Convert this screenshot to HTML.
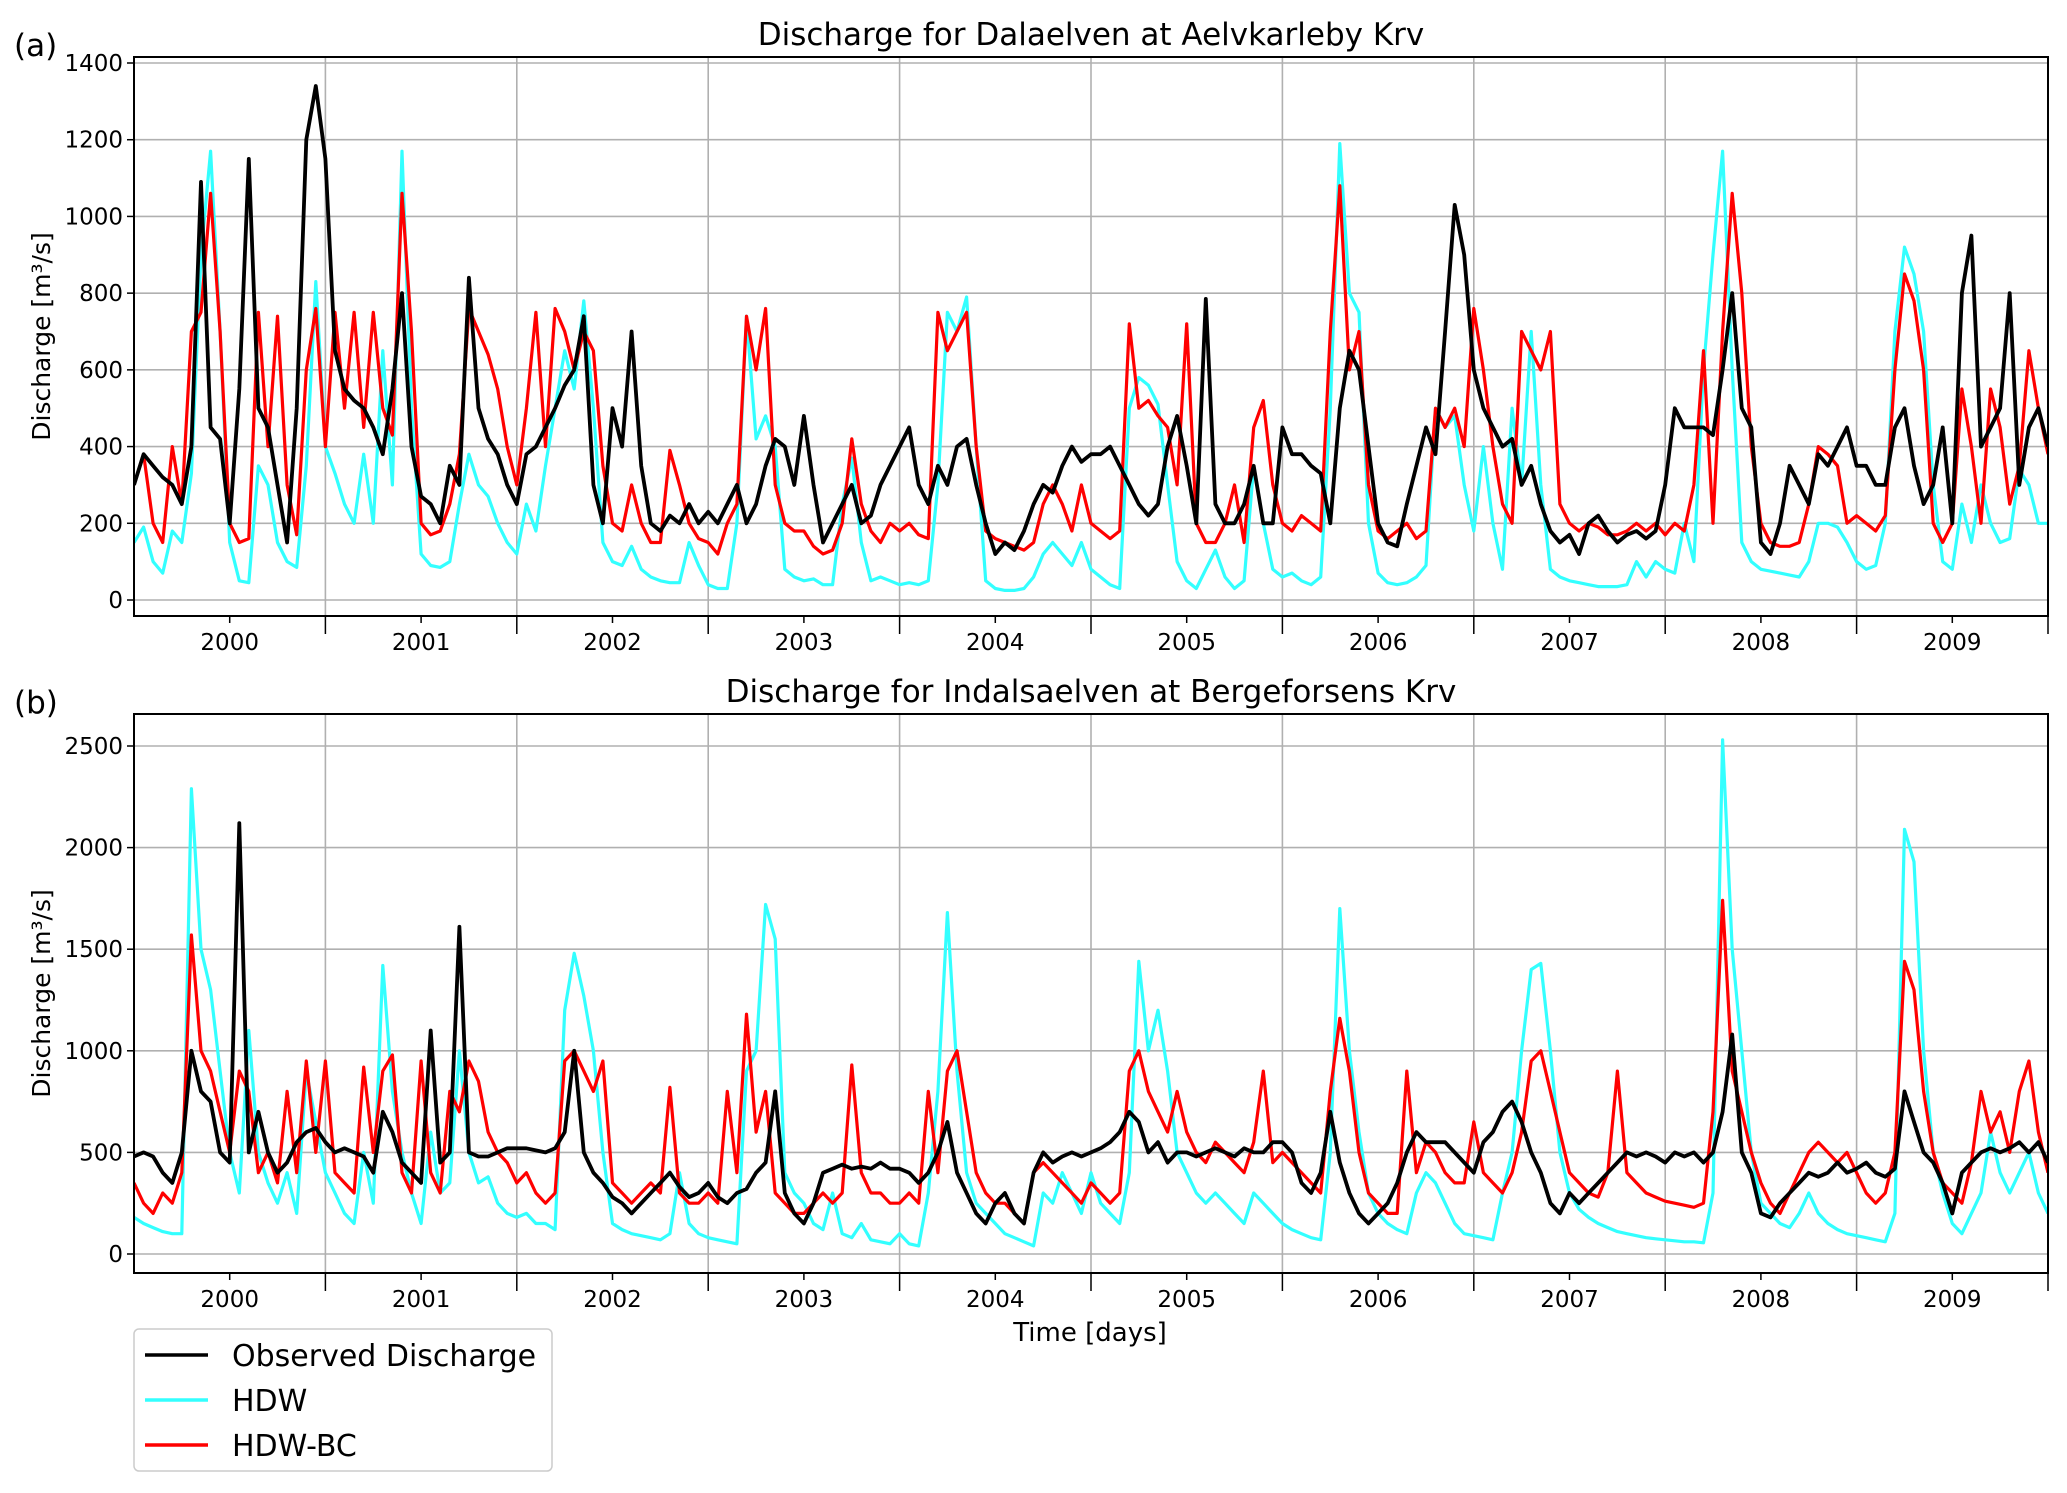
<!DOCTYPE html>
<html><head><meta charset="utf-8">
<style>
html,body{margin:0;padding:0;background:#fff;}
svg{display:block;font-family:"DejaVu Sans","Liberation Sans",sans-serif;}
</style></head>
<body>
<svg id="fig" width="2067" height="1493" viewBox="0 0 2067 1493" xmlns="http://www.w3.org/2000/svg">
<rect width="2067" height="1493" fill="#fff"/>
<g id="panelA"></g>
<g id="panelB"></g>
<text x="1090" y="1341" font-size="26" text-anchor="middle">Time [days]</text>
<g id="legend">
  <rect x="134" y="1329" width="418" height="142" rx="5" fill="#fff" stroke="#cccccc" stroke-width="1.5"/>
  <g>
    <line x1="145" y1="1355" x2="208" y2="1355" stroke="#000" stroke-width="3.5"/>
    <text x="232" y="1366" font-size="30">Observed Discharge</text>
  </g>
  <g>
    <line x1="145" y1="1400" x2="208" y2="1400" stroke="#33ffff" stroke-width="3.5"/>
    <text x="232" y="1411" font-size="30">HDW</text>
  </g>
  <g>
    <line x1="145" y1="1445" x2="208" y2="1445" stroke="#ff0000" stroke-width="3.5"/>
    <text x="232" y="1456" font-size="30">HDW-BC</text>
  </g>
</g>
</svg>
<script>
// time axis: start 1999.5, step 0.05 years
const tStart = 1999.5;
const tStep = 0.05;
const yearLabels = ["2000","2001","2002","2003","2004","2005","2006","2007","2008","2009"];
const ticksA = [0,200,400,600,800,1000,1200,1400];
const ticksB = [0,500,1000,1500,2000,2500];

const hdwA = [150,190,100,70,180,150,330,900,1170,700,
150,50,45,350,300,150,100,85,350,830,
400,330,250,200,380,200,650,300,1170,500,
120,90,85,100,250,380,300,270,200,150,
120,250,180,350,500,650,550,780,500,150,
100,90,140,80,60,50,45,45,150,90,
40,30,30,200,740,420,480,400,80,60,
50,55,40,40,250,370,150,50,60,50,
40,45,40,50,300,750,700,790,400,50,
30,25,25,30,60,120,150,120,90,150,
80,60,40,30,500,580,560,510,300,100,
50,30,80,130,60,30,50,350,200,80,
60,70,50,40,60,500,1190,800,750,200,
70,45,40,45,60,90,500,450,480,300,
180,400,200,80,500,300,700,300,80,60,
50,45,40,35,35,35,40,100,60,100,
80,70,200,100,600,900,1170,600,150,100,
80,75,70,65,60,100,200,200,190,150,
100,80,90,200,700,920,850,700,300,100,
80,250,150,300,200,150,160,340,300,200,200];
const bcA = [300,380,200,150,400,250,700,750,1060,700,
200,150,160,750,400,740,300,170,600,760,
400,750,500,750,450,750,500,430,1060,700,
200,170,180,250,380,760,700,640,550,400,
300,500,750,400,760,700,600,700,650,350,
200,180,300,200,150,150,390,300,200,160,
150,120,200,250,740,600,760,300,200,180,
180,140,120,130,200,420,250,180,150,200,
180,200,170,160,750,650,700,750,400,180,
160,150,140,130,150,250,300,250,180,300,
200,180,160,180,720,500,520,480,450,300,
720,200,150,150,200,300,150,450,520,300,
200,180,220,200,180,700,1080,600,700,300,
180,160,180,200,160,180,500,450,500,400,
760,600,400,250,200,700,650,600,700,250,
200,180,200,190,170,170,180,200,180,200,
170,200,180,300,650,200,700,1060,800,400,
200,150,140,140,150,250,400,380,350,200,
220,200,180,220,600,850,780,600,200,150,
200,550,400,200,550,450,250,350,650,500,380];
const obsA = [300,380,350,320,300,250,400,1090,450,420,
200,550,1150,500,450,300,150,500,1200,1340,
1150,650,550,520,500,450,380,550,800,400,
270,250,200,350,300,840,500,420,380,300,
250,380,400,450,500,560,600,740,300,200,
500,400,700,350,200,180,220,200,250,200,
230,200,250,300,200,250,350,420,400,300,
480,300,150,200,250,300,200,220,300,350,
400,450,300,250,350,300,400,420,300,200,
120,150,130,180,250,300,280,350,400,360,
380,380,400,350,300,250,220,250,400,480,
350,200,785,250,200,200,250,350,200,200,
450,380,380,350,330,200,500,650,600,400,
200,150,140,250,350,450,380,700,1030,900,
600,500,450,400,420,300,350,250,180,150,
170,120,200,220,180,150,170,180,160,180,
300,500,450,450,450,430,600,800,500,450,
150,120,200,350,300,250,380,350,400,450,
350,350,300,300,450,500,350,250,300,450,
200,800,950,400,450,500,800,300,450,500,400];

const hdwB = [180,150,130,110,100,100,2290,1500,1300,900,
500,300,1100,500,350,250,400,200,900,650,
400,300,200,150,500,250,1420,800,500,300,
150,600,300,350,1000,500,350,380,250,200,
180,200,150,150,120,1200,1480,1270,1000,500,
150,120,100,90,80,70,100,400,150,100,
80,70,60,50,900,1000,1720,1550,400,300,
250,150,120,300,100,80,150,70,60,50,
100,50,40,300,800,1680,900,400,250,200,
150,100,80,60,40,300,250,400,300,200,
400,250,200,150,400,1440,1000,1200,900,500,
400,300,250,300,250,200,150,300,250,200,
150,120,100,80,70,500,1700,1000,600,300,
200,150,120,100,300,400,350,250,150,100,
90,80,70,300,500,1000,1400,1430,1000,500,
300,220,180,150,130,110,100,90,80,75,
70,65,60,60,55,300,2530,1500,1000,500,
250,200,150,130,200,300,200,150,120,100,
90,80,70,60,200,2090,1930,1000,500,300,
150,100,200,300,600,400,300,400,500,300,200];
const bcB = [350,250,200,300,250,400,1570,1000,900,700,
500,900,800,400,500,350,800,400,950,500,
950,400,350,300,920,500,900,980,400,300,
950,400,300,800,700,950,850,600,500,450,
350,400,300,250,300,950,1000,900,800,950,
350,300,250,300,350,300,820,300,250,250,
300,250,800,400,1180,600,800,300,250,200,
200,250,300,250,300,930,400,300,300,250,
250,300,250,800,400,900,1000,700,400,300,
250,250,200,150,400,450,400,350,300,250,
350,300,250,300,900,1000,800,700,600,800,
600,500,450,550,500,450,400,550,900,450,
500,450,400,350,300,800,1160,900,500,300,
250,200,200,900,400,550,500,400,350,350,
650,400,350,300,400,600,950,1000,800,600,
400,350,300,280,400,900,400,350,300,280,
260,250,240,230,250,700,1740,900,700,500,
350,250,200,300,400,500,550,500,450,500,
400,300,250,300,500,1440,1300,800,500,350,
300,250,450,800,600,700,500,800,950,600,400];
const obsB = [480,500,480,400,350,500,1000,800,750,500,
450,2120,500,700,500,400,450,550,600,620,
550,500,520,500,480,400,700,600,450,400,
350,1100,450,500,1610,500,480,480,500,520,
520,520,510,500,520,600,1000,500,400,350,
280,250,200,250,300,350,400,330,280,300,
350,280,250,300,320,400,450,800,300,200,
150,250,400,420,440,420,430,420,450,420,
420,400,350,400,500,650,400,300,200,150,
250,300,200,150,400,500,450,480,500,480,
500,520,550,600,700,650,500,550,450,500,
500,480,500,520,500,480,520,500,500,550,
550,500,350,300,400,700,450,300,200,150,
200,250,350,500,600,550,550,550,500,450,
400,550,600,700,750,650,500,400,250,200,
300,250,300,350,400,450,500,480,500,480,
450,500,480,500,450,500,700,1080,500,400,
200,180,250,300,350,400,380,400,450,400,
420,450,400,380,420,800,650,500,450,350,
200,400,450,500,520,500,520,550,500,550,450];

const NS = "http://www.w3.org/2000/svg";
const X0 = 134, X1 = 2048, T0 = 1999.5, T1 = 2009.5;
function xScale(t){ return X0 + (t - T0) / (T1 - T0) * (X1 - X0); }
function mk(tag, attrs, parent){
  const e = document.createElementNS(NS, tag);
  for (const k in attrs) e.setAttribute(k, attrs[k]);
  parent.appendChild(e);
  return e;
}

function drawPanel(g, cfg){
  const yScale = v => cfg.y0 - v / cfg.vmax * (cfg.y0 - cfg.yTop);
  for (const v of cfg.ticks){
    const y = yScale(v);
    const gl = mk('line', {x1:X0, x2:X1, y1:y, y2:y, stroke:'#b0b0b0', 'stroke-width':1.6}, g);
    
    
    mk('line', {x1:X0-7, x2:X0, y1:y, y2:y, stroke:'#000', 'stroke-width':1.5}, g);
    const tl = mk('text', {x:X0-11, y:y+8, 'font-size':23, 'text-anchor':'end'}, g);
    tl.textContent = String(v);
    
    
  }
  for (let yr = 2000; yr <= 2009; yr++){
    const xg = xScale(yr + 0.5);
    if (yr < 2009){
      const vg = mk('line', {x1:xg, x2:xg, y1:cfg.top, y2:cfg.bottom, stroke:'#b0b0b0', 'stroke-width':1.6}, g);
      
      
    }
    mk('line', {x1:xg, x2:xg, y1:cfg.bottom, y2:cfg.bottom+18, stroke:'#000', 'stroke-width':1.5}, g);
    const xt = xScale(yr);
    mk('line', {x1:xt, x2:xt, y1:cfg.bottom, y2:cfg.bottom+7, stroke:'#000', 'stroke-width':1.5}, g);
    const lab = mk('text', {x:xt, y:cfg.bottom+34, 'font-size':23, 'text-anchor':'middle'}, g);
    lab.textContent = yearLabels[yr-2000];
    
    
  }
  const series = [[cfg.hdw,'#33ffff',3.2,'hdw-line'],[cfg.bc,'#ff0000',3.2,'hdw-bc-line'],[cfg.obs,'#000000',3.8,'observed-line']];
  const clipId = 'clip' + cfg.id;
  const cp = mk('clipPath', {id:clipId}, g);
  mk('rect', {x:X0, y:cfg.top, width:X1-X0, height:cfg.bottom-cfg.top}, cp);
  for (const s of series){
    let d = '';
    s[0].forEach((v,i) => { d += (i ? 'L' : 'M') + xScale(tStart + i*tStep).toFixed(1) + ',' + yScale(v).toFixed(1); });
    const p = mk('path', {d:d, fill:'none', stroke:s[1], 'stroke-width':s[2], 'stroke-linejoin':'round', 'clip-path':'url(#'+clipId+')'}, g);
    
    
  }
  const fr = mk('rect', {x:X0, y:cfg.top, width:X1-X0, height:cfg.bottom-cfg.top, fill:'none', stroke:'#000', 'stroke-width':2}, g);
  
  
  const tt = mk('text', {x:1091, y:cfg.top-12, 'font-size':31, 'text-anchor':'middle'}, g);
  tt.textContent = cfg.title;
  
  
  const pl = mk('text', {x:14, y:cfg.top-1, 'font-size':31}, g);
  pl.textContent = cfg.letter;
  
  
  const cy = (cfg.top + cfg.bottom)/2;
  const yl = mk('text', {x:0, y:0, 'font-size':25, 'text-anchor':'middle', transform:'translate(50,'+cy+') rotate(-90)'}, g);
  yl.textContent = 'Discharge [m³/s]';
  
  
}

drawPanel(document.getElementById('panelA'), {id:'A', top:57, bottom:616, y0:600, yTop:63, vmax:1400, ticks:ticksA,
  hdw:hdwA, bc:bcA, obs:obsA, title:'Discharge for Dalaelven at Aelvkarleby Krv', letter:'(a)'});
drawPanel(document.getElementById('panelB'), {id:'B', top:714, bottom:1273, y0:1254, yTop:746, vmax:2500, ticks:ticksB,
  hdw:hdwB, bc:bcB, obs:obsB, title:'Discharge for Indalsaelven at Bergeforsens Krv', letter:'(b)'});
</script>
</body></html>
